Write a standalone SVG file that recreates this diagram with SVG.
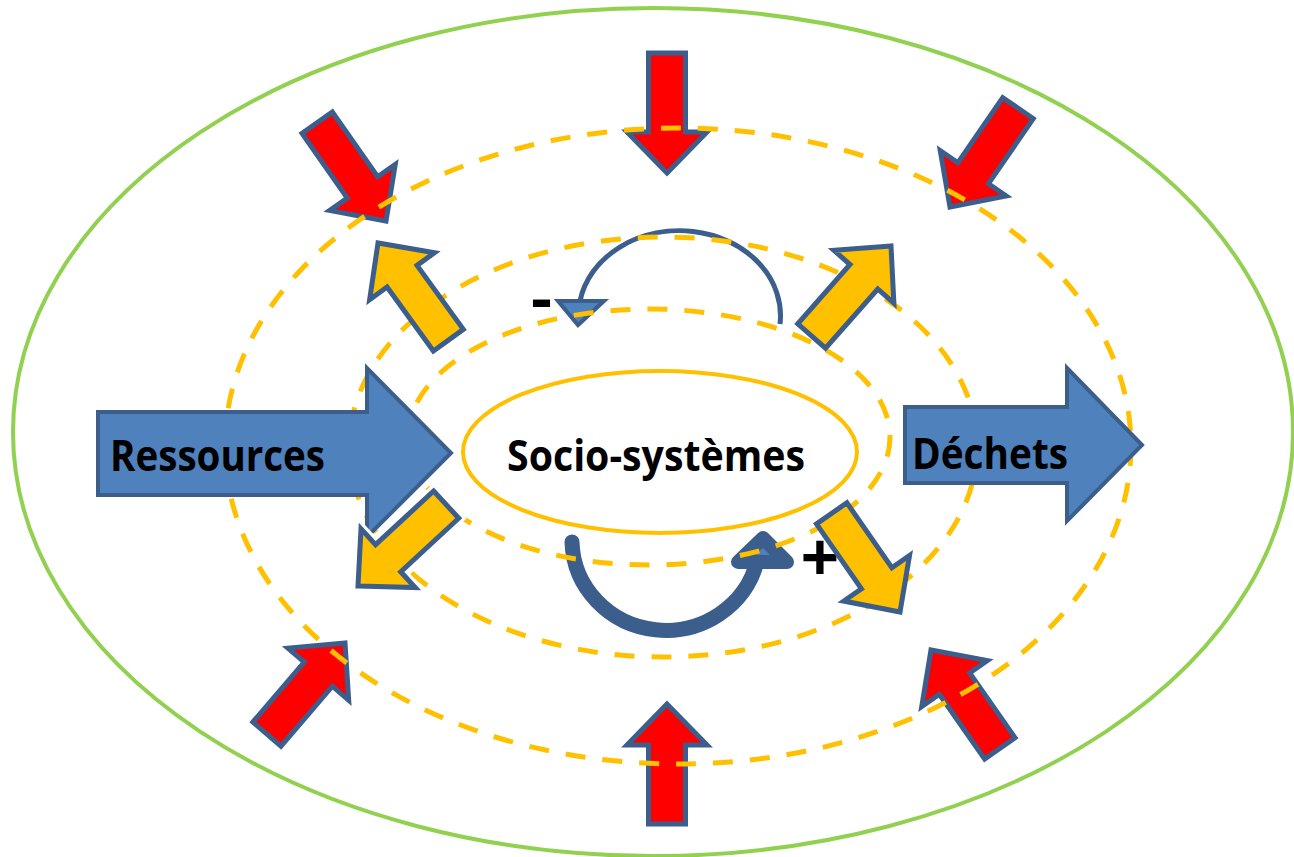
<svg xmlns="http://www.w3.org/2000/svg" xmlns:xlink="http://www.w3.org/1999/xlink" width="1294" height="857" viewBox="0 0 1294 857">
<style>
.dash{fill:none;stroke:#FFC000;stroke-width:5;stroke-dasharray:20 17}
.red{fill:#FF0000;stroke:#3B5E8C;stroke-width:5;stroke-linejoin:miter}
.yel{fill:#FFC000;stroke:#3B5E8C;stroke-width:5;stroke-linejoin:miter}
.halo{fill:none;stroke:#FFFFFF;stroke-width:11;stroke-linejoin:miter}
.big{fill:#4F81BD;stroke:#3B5E8C;stroke-width:4}
.lbl{font-family:"Open Sans","Liberation Sans",sans-serif;font-weight:bold;fill:#000}
</style>
<defs>
<polygon id="arr" points="0,0 -41,-40 -41,-18.5 -120,-18.5 -120,18.5 -41,18.5 -41,40"/>
</defs>
<rect width="1294" height="857" fill="#FFFFFF"/>
<ellipse cx="653" cy="432" rx="640" ry="424" fill="none" stroke="#92D050" stroke-width="4"/>
<g id="red-arrows">
<use xlink:href="#arr" class="red" transform="translate(667,173) rotate(90)"/>
<use xlink:href="#arr" class="red" transform="translate(667,704) rotate(-90)"/>
<use xlink:href="#arr" class="red" transform="translate(386,221) rotate(55)"/>
<use xlink:href="#arr" class="red" transform="translate(950,207) rotate(124.5)"/>
<use xlink:href="#arr" class="red" transform="translate(345,643) rotate(-49.4)"/>
<use xlink:href="#arr" class="red" transform="translate(931,650) rotate(235)"/>
</g>
<g id="loops">
<path d="M 780,324 A 101 85 0 0 0 580,301" fill="none" stroke="#3B5E8C" stroke-width="5"/>
<polygon points="558,301 604,301 578,325" fill="#4F81BD" stroke="#3B5E8C" stroke-width="4" stroke-linejoin="miter"/>
<path d="M 572,542 A 94 91 0 0 0 757,562" fill="none" stroke="#3B5E8C" stroke-width="15" stroke-linecap="round"/>
<polygon points="738,562 787,562 763,538" fill="#4F81BD" stroke="#3B5E8C" stroke-width="14" stroke-linejoin="round"/>
</g>
<g id="rings">
<ellipse class="dash" cx="678" cy="446" rx="453" ry="318"/>
<ellipse class="dash" cx="663" cy="447" rx="314" ry="210"/>
<ellipse class="dash" cx="649" cy="437" rx="241" ry="128"/>
</g>
<g id="socio">
<ellipse cx="660" cy="452" rx="197" ry="81" fill="#FFFFFF" stroke="#FFC000" stroke-width="4"/>
<text class="lbl" x="507" y="471" font-size="43" textLength="298" lengthAdjust="spacingAndGlyphs">Socio-systèmes</text>
</g>
<g id="ressources">
<polygon class="big" points="98,412 367,412 367,368 451,453 367,537 367,495 98,495"/>
<text class="lbl" x="110" y="471" font-size="43" textLength="215" lengthAdjust="spacingAndGlyphs">Ressources</text>
</g>
<g id="dechets">
<polygon class="big" points="905,407 1067,407 1067,368 1142,445 1067,521 1067,483 905,483"/>
<text class="lbl" x="912" y="469" font-size="43" textLength="156" lengthAdjust="spacingAndGlyphs">Déchets</text>
</g>
<g id="signs">
<text class="lbl" x="531" y="320" font-size="60" textLength="21" lengthAdjust="spacingAndGlyphs">-</text>
<text class="lbl" x="820" y="582" font-size="68" text-anchor="middle">+</text>
</g>
<g id="yellow-arrows">
<use xlink:href="#arr" class="halo" transform="translate(358,586) rotate(137.3)"/>
<use xlink:href="#arr" class="yel" transform="translate(378,243) rotate(234.1)"/>
<use xlink:href="#arr" class="yel" transform="translate(891,246) rotate(-48.6)"/>
<use xlink:href="#arr" class="yel" transform="translate(358,586) rotate(137.3)"/>
<use xlink:href="#arr" class="yel" transform="translate(900,612) rotate(55.3)"/>
</g>
</svg>
